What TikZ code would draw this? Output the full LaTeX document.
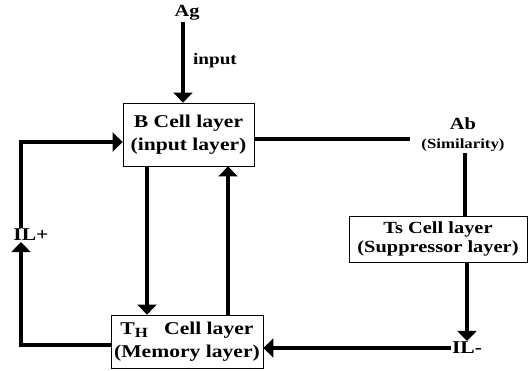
\documentclass[tikz,border=0pt]{standalone}
\usepackage{fontspec}
\setmainfont{Liberation Serif}[FakeStretch=1.2]
\usetikzlibrary{arrows.meta}
\begin{document}
\begin{tikzpicture}[x=1pt,y=-1pt,
  layer/.style={draw, line width=0.8pt, align=center, inner sep=0pt,
    font=\bfseries\fontsize{18}{23}\selectfont},
  lbl/.style={inner sep=1pt, font=\bfseries\fontsize{17}{20}\selectfont},
  flow/.style={line width=3.5pt},
  arr/.style={flow, -{Triangle[length=10pt,width=19pt]}}
]
\useasboundingbox (0,0) rectangle (529,371);

% layers
\node[layer, minimum width=131pt, minimum height=63pt] (b) at (188.5,134.5)
  {B Cell layer\\(input layer)};
\node[layer, minimum width=178pt, minimum height=46pt,
  font=\bfseries\fontsize{17}{19}\selectfont] (ts) at (438,239)
  {Ts Cell layer\\(Suppressor layer)};
\node[layer, minimum width=152pt, minimum height=53pt] (th) at (187,341.5)
  {T\raisebox{-0.35ex}{\fontsize{14}{14}\selectfont H}\hspace{0.9em}Cell layer\\(Memory layer)};

% labels
\node[lbl] (ag) at (187,13) {Ag};
\node[lbl, font=\bfseries\fontsize{16}{18}\selectfont] (inp) at (215,61) {input};
\node[lbl] (ab) at (463,124) {Ab};
\node[lbl, font=\bfseries\fontsize{14}{16}\selectfont] (sim) at (463,145) {(Similarity)};
\node[lbl, font=\bfseries\fontsize{18}{20}\selectfont] (ilp) at (31,235) {IL+};
\node[lbl, font=\bfseries\fontsize{18}{20}\selectfont] (ilm) at (467,348) {IL-};

% guide columns
\coordinate (agx) at (183,0);
\coordinate (dx) at (147,0);
\coordinate (ux) at (228,0);
\coordinate (lx) at (21,0);
\coordinate (tsx) at (467,0);
\coordinate (abx) at (465,0);
\coordinate (abw) at (410,139);

% connectors
\draw[arr] (ag.south -| agx) -- (b.north -| agx);
\draw[flow] (b.east |- abw) -- (abw);
\draw[flow] (sim.south -| abx) -- (ts.north -| abx);
\draw[arr] (ts.south -| tsx) -- (ilm.north -| tsx);
\draw[arr] (ilm.west) -- (ilm.west -| th.east);
\draw[arr] (b.south -| dx) -- (th.north -| dx);
\draw[arr] (th.north -| ux) -- (b.south -| ux);
\draw[arr] ([yshift=-3.5pt]th.west) -| (lx |- ilp.south);
\draw[arr] (lx |- ilp.north) |- ([yshift=-7.5pt]b.west);
\end{tikzpicture}
\end{document}
